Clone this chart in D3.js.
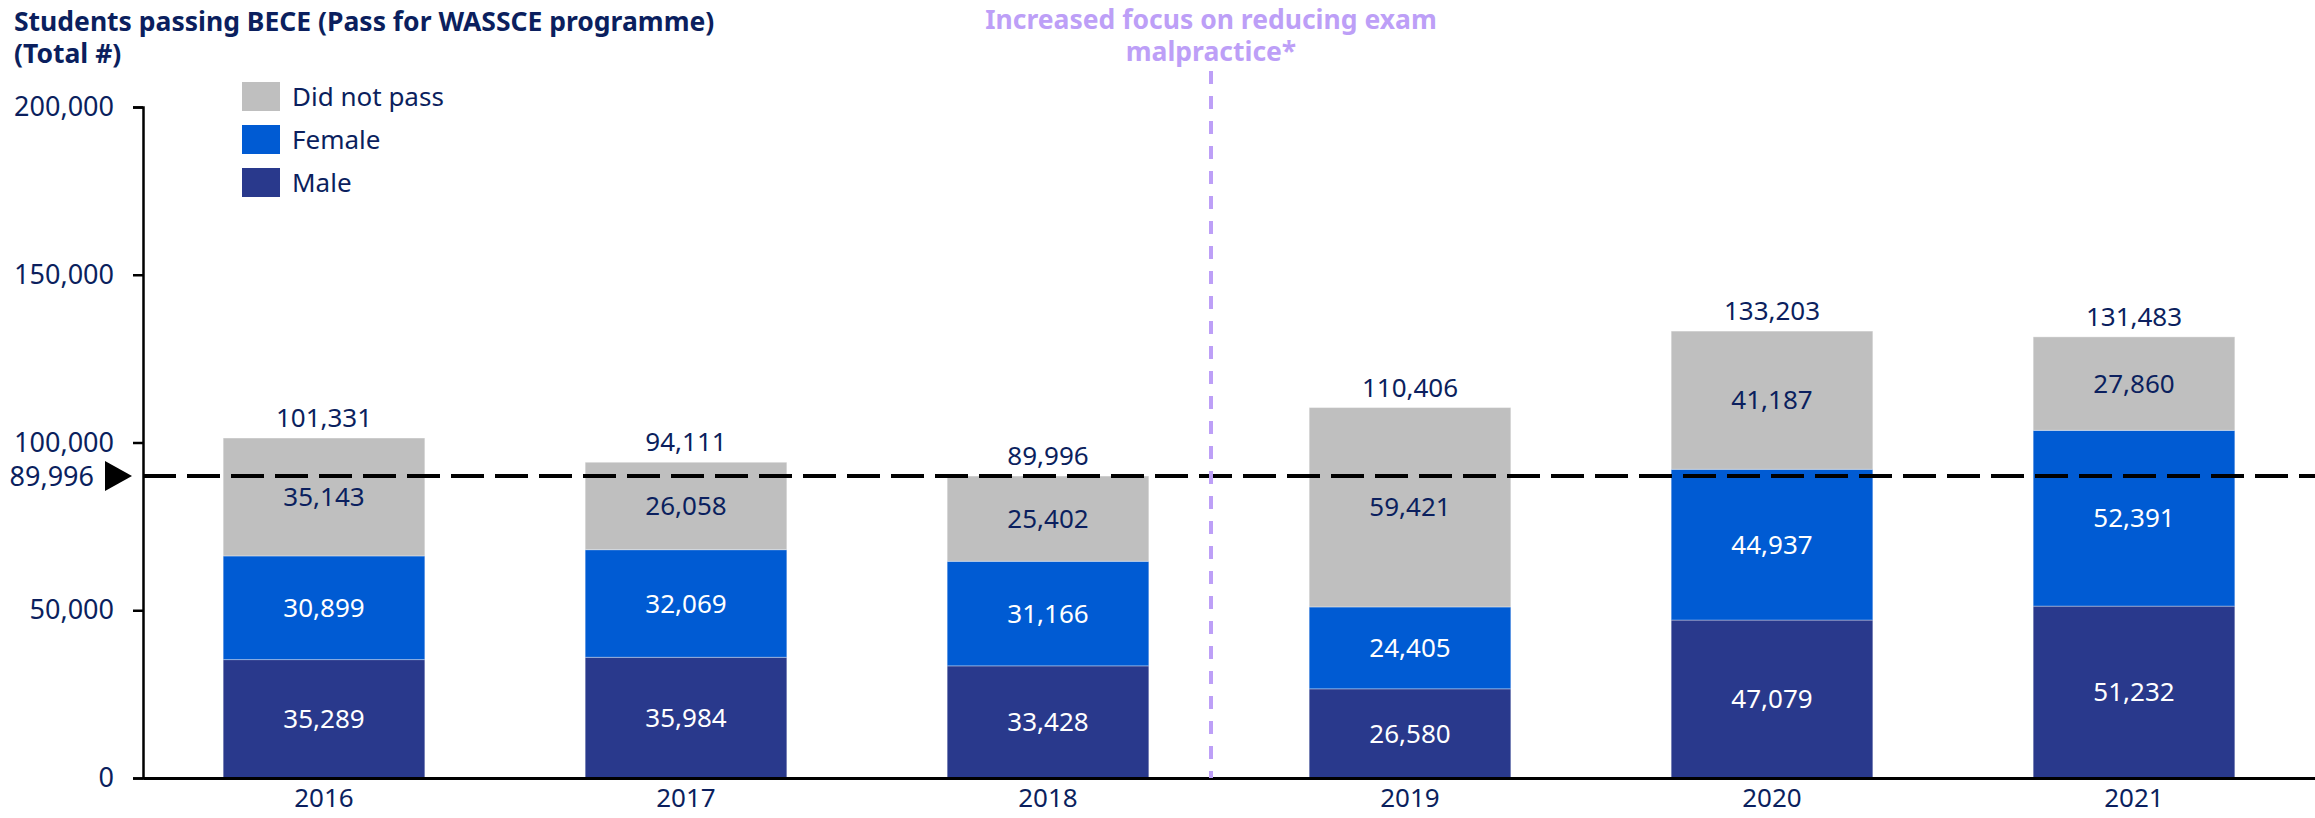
<!DOCTYPE html>
<html>
<head>
<meta charset="UTF-8">
<script src="https://d3js.org/d3.v7.min.js"></script>
<style>
  body { margin: 0; background: white; }
  svg { display: block; }
  text { font-family: "Noto Sans", sans-serif; fill: #0b1f5e; }
</style>
</head>
<body>
<svg id="chart"></svg>
<script>
// data
const years = ['2016', '2017', '2018', '2019', '2020', '2021']
const male = [35289, 35984, 33428, 26580, 47079, 51232]
const female = [30899, 32069, 31166, 24405, 44937, 52391]
const didNotPass = [35143, 26058, 25402, 59421, 41187, 27860]
const totals = [101331, 94111, 89996, 110406, 133203, 131483]
const yTicks = [0, 50000, 100000, 150000, 200000]
const refValue = 89996

const seriesNames = ['Male', 'Female', 'Did not pass']
const colors = { 'Male': '#29398c', 'Female': '#005bd3', 'Did not pass': '#bfbfbf' }
const labelColors = { 'Male': 'white', 'Female': 'white', 'Did not pass': '#0b1f5e' }

const width = 2315, height = 818
const svg = d3.select('#chart').attr('width', width).attr('height', height)

const margin = { top: 107, bottom: 40, left: 143, right: 0 }

const xScale = d3.scaleBand()
  .domain(years)
  .range([margin.left, width - margin.right])
  .padding(0)

const yScale = d3.scaleLinear()
  .domain([0, 200000])
  .range([height - margin.bottom, margin.top])

const barW = xScale.bandwidth() * 0.557
const fmt = d3.format(',')

// build stacked rows
const rows = years.map((y, i) => ({ year: y, 'Male': male[i], 'Female': female[i], 'Did not pass': didNotPass[i] }))
const stacked = d3.stack().keys(seriesNames)(rows)

// bars
const layers = svg.append('g').selectAll('g')
  .data(stacked)
  .join('g')
  .attr('fill', d => colors[d.key])

layers.selectAll('rect')
  .data(d => d)
  .join('rect')
  .attr('x', d => xScale(d.data.year) + (xScale.bandwidth() - barW) / 2)
  .attr('y', d => yScale(d[1]))
  .attr('width', barW)
  .attr('height', d => yScale(d[0]) - yScale(d[1]))
  .attr('stroke', 'white')
  .attr('stroke-opacity', 0.35)
  .attr('stroke-width', 1)

// segment labels
stacked.forEach(layer => {
  svg.append('g').selectAll('text')
    .data(layer)
    .join('text')
    .attr('x', d => xScale(d.data.year) + xScale.bandwidth() / 2)
    .attr('y', d => yScale((d[0] + d[1]) / 2))
    .attr('dy', '0.35em')
    .attr('text-anchor', 'middle')
    .style('font-size', '26px')
    .style('fill', labelColors[layer.key])
    .text(d => fmt(d[1] - d[0]))
})

// totals
svg.append('g').selectAll('text')
  .data(totals)
  .join('text')
  .attr('x', (d, i) => xScale(years[i]) + xScale.bandwidth() / 2)
  .attr('y', d => yScale(d) - 11)
  .attr('text-anchor', 'middle')
  .style('font-size', '26px')
  .text(d => fmt(d))

// y axis
const yAxis = d3.axisLeft(yScale).tickValues(yTicks).tickFormat(fmt).tickSizeOuter(0).tickSize(10).tickPadding(19)
const gy = svg.append('g').attr('transform', `translate(${margin.left},0)`).call(yAxis)
gy.select('.domain').attr('stroke', 'black').attr('stroke-width', 2.5)
gy.selectAll('.tick line').attr('stroke', 'black').attr('stroke-width', 2.5)
gy.selectAll('.tick text').style('font-size', '27px').style('font-family', '"Noto Sans", sans-serif').attr('fill', '#0b1f5e')

// x axis
const xAxis = d3.axisBottom(xScale).tickSize(0).tickPadding(11)
const gx = svg.append('g').attr('transform', `translate(0,${yScale(0)})`).call(xAxis)
gx.select('.domain').attr('stroke', 'black').attr('stroke-width', 3)
gx.selectAll('.tick text').style('font-size', '26px').style('font-family', '"Noto Sans", sans-serif').attr('fill', '#0b1f5e')

// reference line
svg.append('line')
  .attr('x1', margin.left)
  .attr('x2', width)
  .attr('y1', yScale(refValue))
  .attr('y2', yScale(refValue))
  .attr('stroke', 'black')
  .attr('stroke-width', 4)
  .attr('stroke-dasharray', '33,11')

const ry = yScale(refValue)
svg.append('path')
  .attr('d', `M105,${ry - 15} L132,${ry} L105,${ry + 15} Z`)
  .attr('fill', 'black')

svg.append('text')
  .attr('x', 94)
  .attr('y', ry)
  .attr('dy', '0.35em')
  .attr('text-anchor', 'end')
  .style('font-size', '27px')
  .text(fmt(refValue))

// annotation line
const annX = xScale('2019') - 18
svg.append('line')
  .attr('x1', annX).attr('x2', annX)
  .attr('y1', 71).attr('y2', yScale(0))
  .attr('stroke', '#bd9ff7')
  .attr('stroke-width', 4)
  .attr('stroke-dasharray', '13,12')

svg.append('text')
  .attr('x', annX)
  .attr('y', 29)
  .attr('text-anchor', 'middle')
  .style('font-size', '26.5px')
  .style('font-weight', 'bold')
  .style('fill', '#bd9ff7')
  .text('Increased focus on reducing exam')

svg.append('text')
  .attr('x', annX)
  .attr('y', 61)
  .attr('text-anchor', 'middle')
  .style('font-size', '26.5px')
  .style('font-weight', 'bold')
  .style('fill', '#bd9ff7')
  .text('malpractice*')

// title
svg.append('text')
  .attr('x', 14)
  .attr('y', 31)
  .style('font-size', '26.5px')
  .style('font-weight', 'bold')
  .text('Students passing BECE (Pass for WASSCE programme)')

svg.append('text')
  .attr('x', 14)
  .attr('y', 63)
  .style('font-size', '26.5px')
  .style('font-weight', 'bold')
  .text('(Total #)')

// legend
const legendItems = ['Did not pass', 'Female', 'Male']
const legend = svg.append('g').attr('transform', 'translate(242,82)')
legendItems.forEach((name, i) => {
  legend.append('rect')
    .attr('x', 0)
    .attr('y', i * 43)
    .attr('width', 38)
    .attr('height', 29)
    .attr('fill', colors[name])
  legend.append('text')
    .attr('x', 50)
    .attr('y', i * 43 + 15)
    .attr('dy', '0.35em')
    .style('font-size', '26px')
    .text(name)
})
</script>
</body>
</html>
